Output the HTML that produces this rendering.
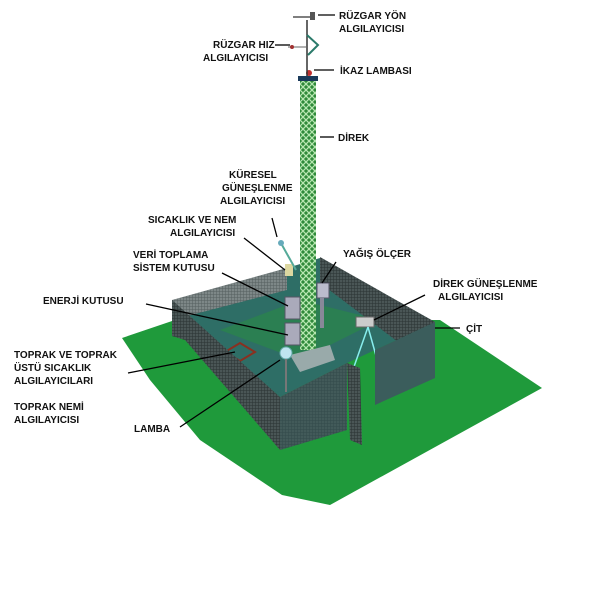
<!DOCTYPE html>
<html><head><meta charset="utf-8"><style>
html,body{margin:0;padding:0;background:#fff;width:600px;height:590px;overflow:hidden}
svg{display:block}
text{font-family:"Liberation Sans",sans-serif;font-weight:bold;font-size:10px;fill:#111}
</style></head><body>
<svg width="600" height="590" viewBox="0 0 600 590">
<defs>
<pattern id="mesh" width="3" height="3" patternUnits="userSpaceOnUse">
<rect width="3" height="3" fill="#4a5656"/><path d="M0 0H3M0 0V3" stroke="#2a3333" stroke-width="1"/>
</pattern>
<pattern id="meshL" width="3" height="3" patternUnits="userSpaceOnUse">
<rect width="3" height="3" fill="#7d8787"/><path d="M0 0H3M0 0V3" stroke="#555f5f" stroke-width="1"/>
</pattern>
<pattern id="lat" width="6" height="6" patternUnits="userSpaceOnUse">
<rect width="6" height="6" fill="#2f8a3a"/><path d="M0 0L6 6M6 0L0 6" stroke="#b6e6b0" stroke-width="1.3"/>
</pattern>
</defs>
<!-- ground -->
<polygon points="122,338 175,320 440,320 542,388 330,505 282,495 200,440 150,380" fill="#1f9a3b"/>
<!-- interior floor -->
<polygon points="172,302 287,268 320,258 435,322 375,350 347,363 280,397" fill="#2e6e66"/>
<polygon points="220,330 300,300 380,320 300,360" fill="#2a8a44" opacity="0.6"/>
<!-- back fences -->
<polygon points="172,300 287,268 287,290 172,320" fill="url(#meshL)"/>
<polygon points="320,257 435,322 435,370 320,283" fill="url(#mesh)"/>
<!-- soil sensor square -->
<polygon points="225,352 240,343 255,352 240,361" fill="none" stroke="#8a3020" stroke-width="2"/>
<!-- mast -->
<rect x="300" y="80" width="16" height="270" fill="url(#lat)"/>
<rect x="298" y="76" width="20" height="5" fill="#1a3a5a"/>
<circle cx="309" cy="73" r="3" fill="#c03030"/>
<line x1="307" y1="20" x2="307" y2="76" stroke="#333" stroke-width="1.5"/>
<path d="M307 35 L318 45 L308 55" fill="none" stroke="#2a7a6a" stroke-width="2"/>
<line x1="293" y1="17" x2="312" y2="17" stroke="#555" stroke-width="1.5"/>
<rect x="310" y="12" width="5" height="8" fill="#555"/>
<line x1="288" y1="47" x2="306" y2="47" stroke="#666"/>
<circle cx="292" cy="47" r="2" fill="#a03030"/>
<!-- equipment -->
<polygon points="290,355 330,345 335,360 300,372" fill="#9aa"/>
<rect x="285" y="297" width="15" height="22" fill="#aab" stroke="#556"/>
<rect x="285" y="323" width="15" height="22" fill="#aab" stroke="#556"/>
<rect x="317" y="283" width="12" height="15" fill="#bbc" stroke="#556"/>
<rect x="320" y="298" width="4" height="30" fill="#889"/>
<circle cx="286" cy="353" r="6" fill="#bfe4f0" stroke="#6aa"/>
<line x1="286" y1="359" x2="286" y2="392" stroke="#777" stroke-width="2"/>
<rect x="285" y="264" width="8" height="12" fill="#dcd7a0"/>
<line x1="282" y1="245" x2="296" y2="270" stroke="#5a9" stroke-width="2"/>
<circle cx="281" cy="243" r="3" fill="#6ab"/>
<rect x="356" y="317" width="18" height="10" fill="#ccc" stroke="#666"/>
<line x1="368" y1="327" x2="350" y2="378" stroke="#8ee" stroke-width="1.5"/>
<line x1="368" y1="327" x2="380" y2="370" stroke="#8ee" stroke-width="1.5"/>
<!-- front fences -->
<polygon points="172,300 280,397 280,450 185,340 172,336" fill="url(#mesh)"/>
<polygon points="280,397 347,363 347,430 280,450" fill="#3b5d5c"/>
<polygon points="280,397 347,363 347,430 280,450" fill="url(#mesh)" opacity="0.45"/>
<polygon points="347,363 360,368 362,445 350,440" fill="url(#mesh)"/>
<polygon points="375,350 435,322 435,378 375,405" fill="#3b5d5c"/>
<!-- leader lines -->
<g stroke="#000" stroke-width="1.3">
<line x1="318" y1="15" x2="335" y2="15"/>
<line x1="275" y1="45" x2="290" y2="45"/>
<line x1="314" y1="70" x2="334" y2="70"/>
<line x1="320" y1="137" x2="334" y2="137"/>
<line x1="272" y1="218" x2="277" y2="237"/>
<line x1="244" y1="238" x2="285" y2="270"/>
<line x1="222" y1="273" x2="288" y2="306"/>
<line x1="336" y1="262" x2="322" y2="283"/>
<line x1="425" y1="295" x2="374" y2="320"/>
<line x1="146" y1="304" x2="288" y2="335"/>
<line x1="435" y1="328" x2="460" y2="328"/>
<line x1="128" y1="373" x2="235" y2="352"/>
<line x1="180" y1="427" x2="280" y2="360"/>
</g>
<!-- labels -->
<text x="339" y="19">RÜZGAR YÖN</text>
<text x="339" y="32">ALGILAYICISI</text>
<text x="213" y="48">RÜZGAR HIZ</text>
<text x="203" y="61">ALGILAYICISI</text>
<text x="340" y="74">İKAZ LAMBASI</text>
<text x="338" y="141">DİREK</text>
<text x="229" y="178">KÜRESEL</text>
<text x="222" y="191">GÜNEŞLENME</text>
<text x="220" y="204">ALGILAYICISI</text>
<text x="148" y="223">SICAKLIK VE NEM</text>
<text x="170" y="236">ALGILAYICISI</text>
<text x="133" y="258">VERİ TOPLAMA</text>
<text x="133" y="271">SİSTEM KUTUSU</text>
<text x="343" y="257">YAĞIŞ ÖLÇER</text>
<text x="433" y="287">DİREK GÜNEŞLENME</text>
<text x="438" y="300">ALGILAYICISI</text>
<text x="43" y="304">ENERJİ KUTUSU</text>
<text x="466" y="332">ÇİT</text>
<text x="14" y="358">TOPRAK VE TOPRAK</text>
<text x="14" y="371">ÜSTÜ SICAKLIK</text>
<text x="14" y="384">ALGILAYICILARI</text>
<text x="14" y="410">TOPRAK NEMİ</text>
<text x="14" y="423">ALGILAYICISI</text>
<text x="134" y="432">LAMBA</text>
</svg>
</body></html>
